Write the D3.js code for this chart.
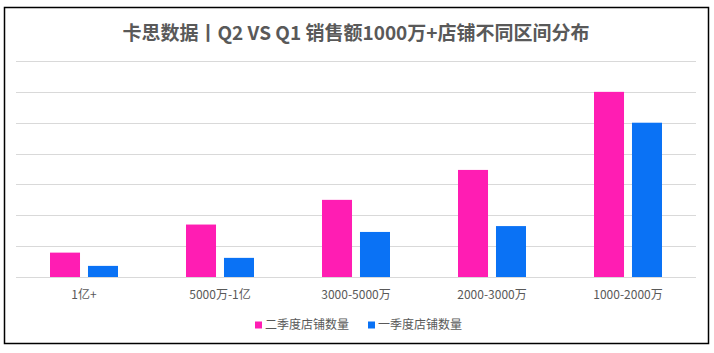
<!DOCTYPE html>
<html>
<head>
<meta charset="utf-8">
<script src="https://cdn.jsdelivr.net/npm/d3@7"></script>
<style>
  body { margin: 0; background: #fff; }
  text { font-family: "Noto Sans CJK SC", "Microsoft YaHei", sans-serif; }
</style>
</head>
<body>
<div id="chart"></div>
<script>
// data (no y labels in the original, so units are relative)
var categories = ["1亿+", "5000万-1亿", "3000-5000万", "2000-3000万", "1000-2000万"];
var seriesNames = ["二季度店铺数量", "一季度店铺数量"];
var seriesColors = ["#FF1DB3", "#0A72F5"];
var q2Values = [7.9, 17, 25, 34.7, 60];
var q1Values = [3.6, 6.2, 14.6, 16.5, 50];
var yTicks = [0, 10, 20, 30, 40, 50, 60, 70];

var width = 714, height = 353;

var svg = d3.select("#chart")
            .append("svg")
            .attr("width", width)
            .attr("height", height);

svg.append("rect")
   .attr("x", 4.5)
   .attr("y", 7.5)
   .attr("width", 704)
   .attr("height", 336)
   .attr("fill", "#fff")
   .attr("stroke", "#000")
   .attr("stroke-width", 1.5);

svg.append("text")
   .attr("x", 356)
   .attr("y", 33)
   .attr("dy", ".35em")
   .attr("text-anchor", "middle")
   .style("font-size", "19px")
   .style("font-weight", "bold")
   .style("fill", "#595959")
   .text("卡思数据丨Q2 VS Q1 销售额1000万+店铺不同区间分布");

var plotLeft = 16, plotRight = 696, plotTop = 61, plotBottom = 277;

var x = d3.scaleBand()
          .domain(categories)
          .range([plotLeft, plotRight]);

var xInner = d3.scaleBand()
               .domain(seriesNames)
               .range([x.bandwidth() / 2 - 34, x.bandwidth() / 2 + 34])
               .paddingInner(0.21);

var y = d3.scaleLinear()
          .domain([0, 70])
          .range([plotBottom, plotTop]);

// gridlines
svg.append("g")
   .selectAll("line")
   .data(yTicks)
   .join("line")
   .attr("x1", plotLeft)
   .attr("x2", plotRight)
   .attr("y1", d => Math.round(y(d)) + 0.5)
   .attr("y2", d => Math.round(y(d)) + 0.5)
   .style("stroke", "#d9d9d9")
   .style("stroke-width", 1);

var rows = categories.map((c, i) => ({ category: c, values: [q2Values[i], q1Values[i]] }));

var groups = svg.append("g")
                .selectAll("g")
                .data(rows)
                .join("g")
                .attr("transform", d => "translate(" + x(d.category) + ",0)");

groups.selectAll("rect")
      .data(d => d.values.map((v, j) => ({ name: seriesNames[j], value: v, color: seriesColors[j] })))
      .join("rect")
      .attr("x", d => xInner(d.name))
      .attr("width", xInner.bandwidth())
      .attr("y", d => y(d.value))
      .attr("height", d => plotBottom - y(d.value))
      .attr("fill", d => d.color);

// category labels
var xAxis = d3.axisBottom(x).tickSize(0).tickPadding(0);
var axisG = svg.append("g")
               .attr("transform", "translate(0," + plotBottom + ")")
               .call(xAxis);
axisG.select(".domain").remove();
axisG.selectAll("text")
     .attr("y", 18)
     .attr("dy", ".35em")
     .style("font-size", "12px")
     .style("fill", "#595959")
     .style("font-family", "\"Noto Sans CJK SC\", sans-serif");

// legend
var legendX = [255, 368];
var legend = svg.append("g")
                .selectAll("g")
                .data(seriesNames)
                .join("g")
                .attr("transform", (d, i) => "translate(" + legendX[i] + ",325)");

legend.append("rect")
      .attr("x", 0)
      .attr("y", -3.5)
      .attr("width", 7)
      .attr("height", 7)
      .attr("fill", (d, i) => seriesColors[i]);

legend.append("text")
      .attr("x", 10)
      .attr("y", 0)
      .attr("dy", ".35em")
      .style("font-size", "12px")
      .style("fill", "#595959")
      .text(d => d);
</script>
</body>
</html>
